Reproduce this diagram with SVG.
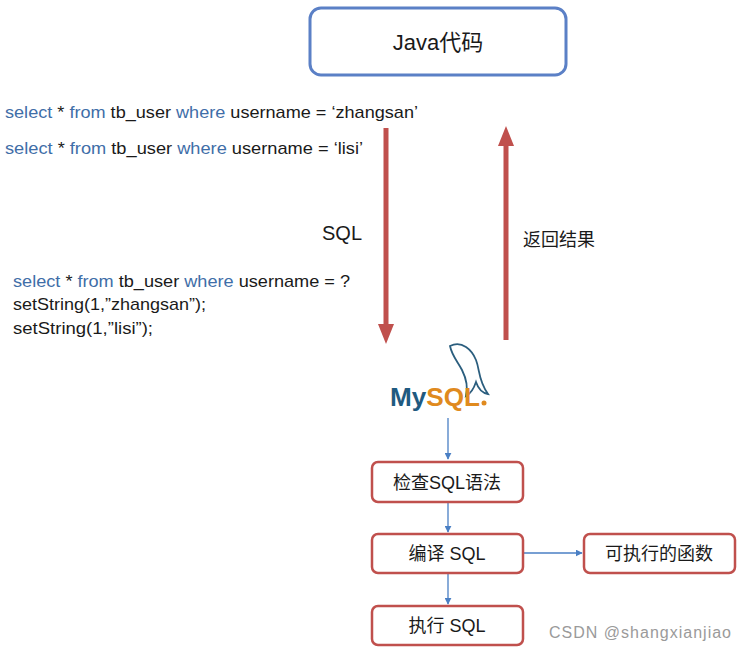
<svg xmlns="http://www.w3.org/2000/svg" width="746" height="652" viewBox="0 0 746 652">
<defs>
<style>
text{font-family:"Liberation Sans","Noto Sans CJK SC",sans-serif;fill:#1a1a1a}
.k{fill:#3f6ea8}
.rb{fill:#fff;stroke:#c0504d;stroke-width:2.5}
.bl{stroke:#4a7fc4;stroke-width:1.3;fill:none}
</style>
<marker id="ba" viewBox="0 0 10 10" refX="9" refY="5" markerWidth="7" markerHeight="7" orient="auto" markerUnits="userSpaceOnUse"><path d="M0,0L10,5L0,10z" fill="#4a7fc4"/></marker>
</defs>
<rect width="746" height="652" fill="#fff"/>
<g id="java"><rect x="310" y="8" width="256" height="67" rx="11" fill="#fff" stroke="#5b80c6" stroke-width="3"/><text x="438" y="50" font-size="22" text-anchor="middle">Java代码</text></g>
<g id="sql1" font-size="17"><text x="5" y="118" textLength="413" lengthAdjust="spacingAndGlyphs"><tspan class="k">select</tspan> * <tspan class="k">from</tspan> tb_user <tspan class="k">where</tspan> username = ‘zhangsan’</text>
<text x="5" y="154" textLength="358" lengthAdjust="spacingAndGlyphs"><tspan class="k">select</tspan> * <tspan class="k">from</tspan> tb_user <tspan class="k">where</tspan> username = ‘lisi’</text></g>
<g id="sql2" font-size="17"><text x="13" y="287" textLength="337" lengthAdjust="spacingAndGlyphs"><tspan class="k">select</tspan> * <tspan class="k">from</tspan> tb_user <tspan class="k">where</tspan> username = ?</text>
<text x="13" y="310" textLength="193" lengthAdjust="spacingAndGlyphs">setString(1,”zhangsan”);</text><text x="13" y="334" textLength="140" lengthAdjust="spacingAndGlyphs">setString(1,”lisi”);</text></g>
<g id="labels"><text x="322" y="240" font-size="20">SQL</text><text x="523" y="246" font-size="18">返回结果</text></g>
<g id="connectors">
<path d="M386,128V326" stroke="#c0504d" stroke-width="5"/><path d="M378,324L386,344L394,324z" fill="#c0504d"/>
<path d="M506,340V144" stroke="#c0504d" stroke-width="5"/><path d="M498,146L506,126L514,146z" fill="#c0504d"/>
<path class="bl" d="M448,418V459" marker-end="url(#ba)"/>
<path class="bl" d="M448,502V532" marker-end="url(#ba)"/>
<path class="bl" d="M448,573V604" marker-end="url(#ba)"/>
<path class="bl" d="M523,553H582" marker-end="url(#ba)"/>
</g>
<g id="mysql"><path d="M450,346C462,340 472,350 476,360C480,370 478,380 488,394C482,393 478,388 476,382C474,388 470,394 466,396C468,388 466,378 462,370C458,362 452,356 450,346Z" fill="none" stroke="#2b5e7e" stroke-width="1.8"/>
<text x="390" y="406" font-size="26" font-weight="bold" textLength="90" lengthAdjust="spacingAndGlyphs"><tspan fill="#1f5a80">My</tspan><tspan fill="#e08a1e">SQL</tspan></text><circle cx="484" cy="403" r="2.5" fill="#e08a1e"/></g>
<g id="n1"><rect class="rb" x="372" y="462" width="151" height="40" rx="6"/><text x="447" y="489" font-size="18" text-anchor="middle">检查SQL语法</text></g>
<g id="n2"><rect class="rb" x="372" y="534" width="151" height="39" rx="6"/><text x="447" y="560" font-size="18" text-anchor="middle">编译 SQL</text></g>
<g id="n3"><rect class="rb" x="584" y="534" width="151" height="39" rx="6"/><text x="659" y="560" font-size="18" text-anchor="middle">可执行的函数</text></g>
<g id="n4"><rect class="rb" x="372" y="606" width="151" height="39" rx="6"/><text x="447" y="632" font-size="18" text-anchor="middle">执行 SQL</text></g>
<text x="549" y="638" font-size="16" textLength="182" style="fill:#9a9a9a">CSDN @shangxianjiao</text>
</svg>
